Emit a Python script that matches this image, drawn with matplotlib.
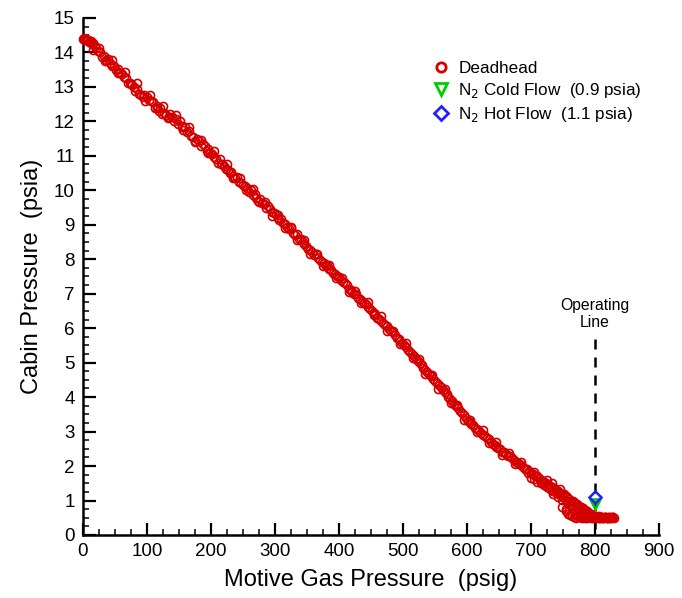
import matplotlib
matplotlib.use("Agg")
import matplotlib.pyplot as plt
from matplotlib.ticker import MultipleLocator

plt.rcParams['font.family'] = ['Liberation Sans', 'DejaVu Sans']

# Deadhead run: motive gas pressure (psig) vs cabin pressure (psia)
deadhead_psig = [
    0, 1, 2, 3, 4, 6, 8, 10, 12, 14, 16, 18, 21, 24, 27, 30, 33, 36, 39, 42, 45, 48,
    52, 55, 58, 61, 64, 67, 70, 73, 76, 79, 82, 85, 88, 91, 94, 97, 100,
    103, 106, 109, 112, 115, 118, 121, 124, 127, 130, 133, 136, 139, 142, 145, 148,
    151, 154, 157, 160, 163, 166, 169, 172, 175, 178, 181, 184, 187, 190, 193, 196, 199,
    202, 205, 208, 211, 214, 217, 220, 223, 226, 229, 232, 235, 238, 241, 244, 247, 250,
    253, 256, 259, 262, 265, 268, 271, 274, 277, 280, 283, 286, 289, 292, 295, 298, 301,
    304, 307, 310, 313, 316, 319, 322, 325, 328, 331, 334, 337, 340, 343, 346, 349,
    352, 355, 358, 361, 364, 367, 370, 373, 376, 379, 382, 385, 388, 391, 394, 397, 400,
    403, 406, 409, 412, 415, 418, 421, 424, 427, 430, 433, 436, 439, 442, 445, 448,
    451, 454, 457, 460, 463, 466, 469, 472, 475, 478, 481, 484, 487, 490, 493, 496, 499,
    502, 505, 508, 511, 514, 517, 520, 523, 526, 529, 532, 535, 538, 541, 544, 547, 550,
    553, 556, 559, 562, 565, 568, 571, 574, 577, 580, 583, 586, 589, 592, 595, 598,
    601, 604, 607, 610, 613, 616, 619, 622, 625, 628, 631, 634, 637, 640, 643, 646, 649,
    652, 655, 658, 661, 664, 667, 670, 673, 676, 679, 682, 685, 688, 691, 694, 697, 700,
    703, 706, 709, 712, 715, 718, 721, 724, 727, 730, 733, 736, 739, 742, 745, 748,
    751, 754, 757, 760, 763, 766, 769, 772, 775, 778, 781, 784, 787, 790, 793, 796, 799,
    700, 705, 710, 715, 720, 725, 730, 735, 740, 745, 750, 755, 760, 765, 770, 775, 780,
    785, 790, 795, 800,
    755, 758, 761, 764, 767, 770, 773, 776, 779, 782, 785, 788, 791, 794, 797, 800,
    803, 806, 809, 812, 815, 818, 821, 824, 827, 830,
    748, 755, 762, 733,
    5, 15, 25, 35, 45, 55, 65, 75, 85, 95, 105, 115, 125, 135, 145, 155, 165, 175, 185,
    195, 205, 215, 225, 235, 245, 255, 265, 275, 285, 295, 305, 315, 325, 335, 345, 355,
    365, 375, 385, 395, 405, 415, 425, 435, 445, 455, 465, 475, 485, 495, 505, 515, 525,
    535, 545, 555, 565, 575, 585, 595, 605, 615, 625, 635, 645, 655, 665, 675, 685, 695,
    705, 715, 725, 735, 745,
    780, 783, 786, 789, 792, 795, 798, 801, 804, 807, 810, 813, 816, 819, 822, 825, 828,
    772, 776, 781, 786, 791, 796, 802, 807, 812, 817, 822, 826,
    735, 742, 749, 756, 763, 770,
]
deadhead_psia = [
    14.40, 14.38, 14.41, 14.36, 14.39, 14.35, 14.37, 14.30, 14.33, 14.25, 14.28, 14.18,
    14.12, 14.05, 14.02, 13.88, 13.90, 13.78, 13.80, 13.70, 13.62, 13.60,
    13.50, 13.52, 13.40, 13.37, 13.30, 13.25, 13.10, 13.12, 13.05, 13.00, 12.88, 12.95,
    12.80, 12.78, 12.70, 12.60, 12.72,
    12.62, 12.60, 12.55, 12.40, 12.45, 12.30, 12.38, 12.22, 12.25, 12.18, 12.10, 12.22,
    12.12, 12.02, 12.08, 11.92,
    12.00, 11.88, 11.75, 11.85, 11.70, 11.72, 11.58, 11.55, 11.40, 11.50, 11.42, 11.30,
    11.35, 11.28, 11.15, 11.20, 11.08,
    11.05, 10.98, 10.92, 10.80, 10.90, 10.75, 10.70, 10.62, 10.58, 10.50, 10.52, 10.42,
    10.35, 10.38, 10.25, 10.22, 10.15,
    10.12, 10.08, 9.95, 10.00, 9.85, 9.90, 9.78, 9.70, 9.75, 9.62, 9.60, 9.50, 9.55,
    9.45, 9.38, 9.35, 9.30,
    9.20, 9.15, 9.18, 9.05, 9.02, 8.95, 8.88, 8.90, 8.75, 8.70, 8.72, 8.60, 8.58, 8.50,
    8.45, 8.38,
    8.30, 8.28, 8.20, 8.12, 8.15, 8.05, 7.98, 7.92, 7.90, 7.80, 7.82, 7.72, 7.68, 7.60,
    7.58, 7.50, 7.48,
    7.40, 7.35, 7.30, 7.25, 7.15, 7.12, 7.05, 7.00, 6.98, 6.88, 6.85, 6.78, 6.72, 6.70,
    6.62, 6.55,
    6.50, 6.45, 6.40, 6.30, 6.28, 6.22, 6.15, 6.10, 6.05, 5.98, 5.92, 5.88, 5.80, 5.72,
    5.70, 5.62, 5.58,
    5.50, 5.45, 5.38, 5.30, 5.25, 5.18, 5.12, 5.05, 4.98, 4.92, 4.85, 4.80, 4.72, 4.68,
    4.60, 4.52, 4.48,
    4.40, 4.35, 4.28, 4.20, 4.15, 4.08, 4.00, 3.95, 3.88, 3.80, 3.75, 3.68, 3.60, 3.55,
    3.48, 3.40,
    3.32, 3.28, 3.22, 3.18, 3.10, 3.08, 3.02, 2.95, 2.90, 2.88, 2.80, 2.78, 2.70, 2.65,
    2.62, 2.55, 2.52,
    2.48, 2.42, 2.40, 2.35, 2.30, 2.28, 2.22, 2.18, 2.12, 2.10, 2.05, 2.02, 1.98, 1.92,
    1.90, 1.85, 1.80,
    1.78, 1.72, 1.70, 1.65, 1.60, 1.58, 1.52, 1.50, 1.45, 1.42, 1.38, 1.35, 1.30, 1.28,
    1.22, 1.20,
    1.18, 1.12, 1.10, 1.05, 1.00, 0.98, 0.92, 0.90, 0.85, 0.82, 0.78, 0.72, 0.70, 0.65,
    0.62, 0.58, 0.55,
    1.65, 1.62, 1.55, 1.50, 1.45, 1.40, 1.32, 1.28, 1.22, 1.15, 1.10, 1.02, 0.95, 0.88,
    0.82, 0.75, 0.70, 0.65, 0.60, 0.55, 0.52,
    0.70, 0.62, 0.58, 0.55, 0.52, 0.50, 0.55, 0.52, 0.50, 0.52, 0.50, 0.48, 0.52, 0.50,
    0.48, 0.50, 0.52, 0.50, 0.48, 0.50, 0.52, 0.50, 0.48, 0.50, 0.52, 0.50,
    0.80, 0.75, 0.85, 1.50,
    14.40, 14.06, 14.12, 13.76, 13.78, 13.40, 13.42, 13.08, 13.12, 12.78, 12.78, 12.40,
    12.46, 12.12, 12.20, 11.83, 11.83, 11.43, 11.45, 11.09, 11.13, 10.75, 10.75, 10.35,
    10.35, 10.01, 10.05, 9.67, 9.67, 9.25, 9.29, 8.92, 8.95, 8.55, 8.55, 8.14, 8.16,
    7.80, 7.84, 7.46, 7.46, 7.06, 7.08, 6.72, 6.76, 6.37, 6.35, 5.93, 5.93, 5.55, 5.56,
    5.14, 5.10, 4.66, 4.64, 4.24, 4.24, 3.82, 3.78, 3.34, 3.35, 3.00, 3.05, 2.68, 2.69,
    2.33, 2.37, 2.07, 2.11, 1.79, 1.84, 1.54, 1.60, 1.28, 1.34,
    0.56, 0.54, 0.57, 0.53, 0.55, 0.52, 0.54, 0.51, 0.53, 0.50, 0.52, 0.49, 0.51, 0.50,
    0.52, 0.49, 0.51,
    0.62, 0.60, 0.58, 0.57, 0.56, 0.55, 0.55, 0.54, 0.53, 0.53, 0.52, 0.52,
    1.18, 1.10, 1.02, 0.95, 0.88, 0.80,
]

# Nitrogen flow points at the operating line
cold_flow_psig = [800]
cold_flow_psia = [0.9]
hot_flow_psig = [800]
hot_flow_psia = [1.1]

operating_line_psig = 800
operating_line_top = 5.7

fig = plt.figure(figsize=(6.82, 5.98), dpi=100)
ax = fig.add_axes([0.1217, 0.1054, 0.8446, 0.8645])

red = '#d40000'
# dashed operating line drawn from the top so the dash pattern starts there
ax.plot([operating_line_psig, operating_line_psig], [operating_line_top, 0],
        color='black', linestyle=(0, (4.0, 3.2)), linewidth=1.8, zorder=1)
ax.text(operating_line_psig, operating_line_top + 0.25, 'Operating\nLine',
        ha='center', va='bottom', fontsize=11.3, linespacing=1.2)

ax.plot(deadhead_psig, deadhead_psia, linestyle='none', marker='o', markersize=5.8,
        markerfacecolor='none', markeredgecolor=red, markeredgewidth=1.2,
        label='Deadhead', zorder=3, clip_on=False)
ax.plot(cold_flow_psig, cold_flow_psia, linestyle='none', marker='v', markersize=7,
        markerfacecolor='none', markeredgecolor='#00cc00', markeredgewidth=1.8,
        label='N$_2$ Cold Flow  (0.9 psia)', zorder=4)
ax.plot(hot_flow_psig, hot_flow_psia, linestyle='none', marker='D', markersize=6,
        markerfacecolor='none', markeredgecolor='#2020ff', markeredgewidth=1.8,
        label='N$_2$ Hot Flow  (1.1 psia)', zorder=5)

ax.set_xlim(0, 900)
ax.set_ylim(0, 15)
ax.xaxis.set_major_locator(MultipleLocator(100))
ax.xaxis.set_minor_locator(MultipleLocator(25))
ax.yaxis.set_major_locator(MultipleLocator(1))
ax.yaxis.set_minor_locator(MultipleLocator(0.25))

for side in ('top', 'right'):
    ax.spines[side].set_visible(False)
for side in ('left', 'bottom'):
    ax.spines[side].set_linewidth(1.8)

ax.tick_params(which='major', direction='in', length=9, width=1.6,
               labelsize=13.5, pad=6)
ax.tick_params(which='minor', direction='in', length=4.5, width=1.1)

ax.set_xlabel('Motive Gas Pressure  (psig)', fontsize=17, labelpad=6)
ax.set_ylabel('Cabin Pressure  (psia)', fontsize=17, labelpad=8)

leg = ax.legend(loc='upper left', bbox_to_anchor=(0.595, 0.93), frameon=False,
                fontsize=12.3, handlelength=1.0, handletextpad=0.5,
                labelspacing=0.3, borderaxespad=0, markerscale=1.15)
# heavier outline on the legend swatches
for handle in leg.legend_handles:
    handle.set_markeredgewidth(2.0)

fig.savefig('out.png', dpi=100)
